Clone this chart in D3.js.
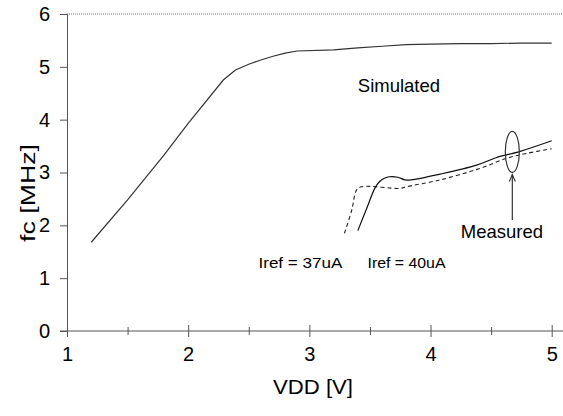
<!DOCTYPE html>
<html>
<head>
<meta charset="utf-8">
<script src="https://cdn.jsdelivr.net/npm/d3@7"></script>
<style>
  body { margin: 0; background: #fff; }
  svg text { font-family: "Liberation Sans", Arial, sans-serif; fill: #000; }
</style>
</head>
<body>
<script>
// Simulated curve, fc [MHz] vs VDD [V]
const simVdd = [1.2, 1.5, 1.8, 2.0, 2.29, 2.39, 2.5, 2.6, 2.7, 2.8, 2.9, 3.2, 3.4, 3.6, 3.8, 4.0, 4.25, 4.5, 4.75, 5.0];
const simFc  = [1.68, 2.48, 3.33, 3.93, 4.75, 4.94, 5.05, 5.13, 5.2, 5.26, 5.30, 5.32, 5.36, 5.39, 5.42, 5.43, 5.44, 5.44, 5.45, 5.45];

// Measured, Iref = 40uA (solid)
const m40Vdd = [3.40, 3.47, 3.54, 3.58, 3.62, 3.66, 3.73, 3.79, 3.84, 4.08, 4.38, 4.54, 4.74, 5.0];
const m40Fc  = [1.90, 2.30, 2.70, 2.83, 2.89, 2.92, 2.91, 2.86, 2.86, 2.97, 3.14, 3.28, 3.40, 3.60];

// Measured, Iref = 37uA (dashed)
const m37Vdd = [3.29, 3.35, 3.39, 3.43, 3.75, 3.80, 4.08, 4.41, 4.63, 4.79, 5.0];
const m37Fc  = [1.85, 2.29, 2.67, 2.73, 2.70, 2.73, 2.86, 3.08, 3.27, 3.36, 3.45];

const xTicks = [1, 2, 3, 4, 5];
const xMinor = [1.5, 2.5, 3.5, 4.5];
const yTicks = [0, 1, 2, 3, 4, 5, 6];

const width = 563, height = 416;
const margin = { top: 14, left: 67, bottom: 85 };

const svg = d3.select('body').append('svg')
  .attr('width', width)
  .attr('height', height);

const x = d3.scaleLinear().domain([1, 5]).range([67, 551.7]);
const y = d3.scaleLinear().domain([0, 6]).range([height - margin.bottom, margin.top]);

const axisColor = '#555';

// dotted top border at 6
svg.append('line')
  .attr('x1', x(1)).attr('x2', width)
  .attr('y1', y(6)).attr('y2', y(6))
  .attr('stroke', '#777').attr('stroke-dasharray', '1,1');

// y axis
const yAxis = svg.append('g')
  .attr('transform', `translate(${x(1)},0)`)
  .call(d3.axisLeft(y).tickValues(yTicks).tickSize(7).tickPadding(10).tickFormat(d3.format('d')));
yAxis.selectAll('line').attr('stroke', axisColor);
yAxis.select('.domain').attr('stroke', axisColor);
yAxis.selectAll('text').style('font-size', '20px');

// x axis (ticks cross the axis line)
const xAxis = svg.append('g')
  .attr('transform', `translate(0,${y(0)})`)
  .call(d3.axisBottom(x).tickValues(xTicks).tickSize(6).tickFormat(d3.format('d')));
xAxis.select('.domain').remove();
xAxis.selectAll('line').attr('y1', -6).attr('y2', 6).attr('stroke', axisColor);
xAxis.selectAll('text').attr('y', 30).attr('dy', null).style('font-size', '20px');

const xAxisMinor = svg.append('g')
  .attr('transform', `translate(0,${y(0)})`)
  .call(d3.axisBottom(x).tickValues(xMinor).tickSize(4).tickFormat(''));
xAxisMinor.select('.domain').remove();
xAxisMinor.selectAll('line').attr('y1', -4).attr('y2', 4).attr('stroke', axisColor);

svg.append('line')
  .attr('x1', x(1) - 7).attr('x2', width)
  .attr('y1', y(0)).attr('y2', y(0))
  .attr('stroke', axisColor);

// axis titles
svg.append('text')
  .attr('x', 313).attr('y', 394)
  .attr('text-anchor', 'middle')
  .attr('textLength', 80).attr('lengthAdjust', 'spacingAndGlyphs')
  .style('font-size', '20px')
  .text('VDD [V]');

svg.append('text')
  .attr('transform', 'translate(35,193) rotate(-90)')
  .attr('text-anchor', 'middle')
  .attr('textLength', 98).attr('lengthAdjust', 'spacingAndGlyphs')
  .style('font-size', '20px')
  .text('fc [MHz]');

// curves
const lineSim = d3.line().x(d => x(d[0])).y(d => y(d[1]));
const lineMeas = d3.line().x(d => x(d[0])).y(d => y(d[1])).curve(d3.curveCatmullRom);

svg.append('path')
  .datum(d3.zip(simVdd, simFc))
  .attr('d', lineSim)
  .attr('fill', 'none').attr('stroke', '#333').attr('stroke-width', 1.2);

svg.append('path')
  .datum(d3.zip(m37Vdd, m37Fc))
  .attr('d', lineMeas)
  .attr('fill', 'none').attr('stroke', '#222').attr('stroke-width', 1.1)
  .attr('stroke-dasharray', '4,3');

svg.append('path')
  .datum(d3.zip(m40Vdd, m40Fc))
  .attr('d', lineMeas)
  .attr('fill', 'none').attr('stroke', '#111').attr('stroke-width', 1.2);

// ellipse marking the measured curves
svg.append('ellipse')
  .attr('cx', x(4.675)).attr('cy', y(3.39))
  .attr('rx', 7).attr('ry', 20.5)
  .attr('fill', 'none').attr('stroke', '#333').attr('stroke-width', 1.2);

// arrow
const ax = x(4.675), ayTop = y(2.96), ayBot = y(2.1);
svg.append('line')
  .attr('x1', ax).attr('x2', ax).attr('y1', ayBot).attr('y2', ayTop)
  .attr('stroke', '#333').attr('stroke-width', 1.2);
svg.append('path')
  .attr('d', `M${ax - 3},${ayTop + 7} L${ax},${ayTop} L${ax + 3},${ayTop + 7}`)
  .attr('fill', 'none').attr('stroke', '#333').attr('stroke-width', 1.2);

// labels
svg.append('text')
  .attr('x', x(3.4)).attr('y', y(4.53))
  .style('font-size', '18.5px')
  .text('Simulated');

svg.append('text')
  .attr('x', x(4.25)).attr('y', y(1.76))
  .style('font-size', '18.5px')
  .text('Measured');

svg.append('text')
  .attr('x', x(2.58)).attr('y', y(1.2))
  .attr('textLength', 84).attr('lengthAdjust', 'spacingAndGlyphs')
  .style('font-size', '14px')
  .text('Iref = 37uA');

svg.append('text')
  .attr('x', x(3.48)).attr('y', y(1.2))
  .attr('textLength', 78).attr('lengthAdjust', 'spacingAndGlyphs')
  .style('font-size', '14px')
  .text('Iref = 40uA');
</script>
</body>
</html>
